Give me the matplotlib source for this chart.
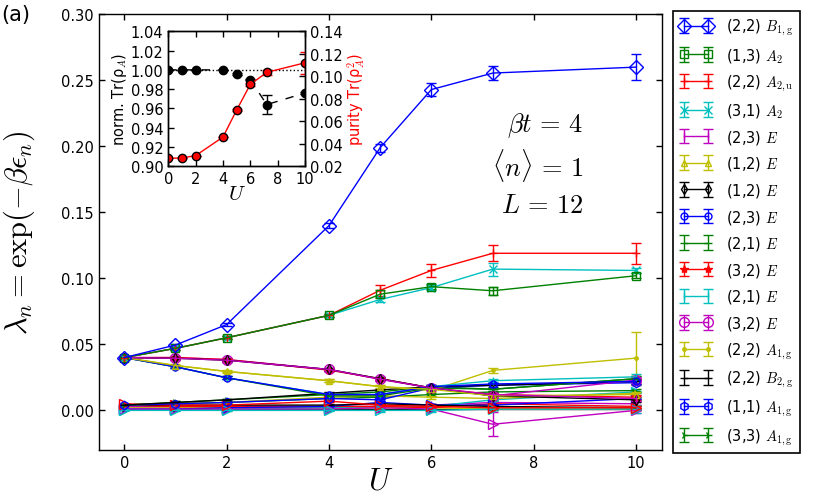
import matplotlib
matplotlib.use("Agg")
import matplotlib.pyplot as plt
import numpy as np

plt.rcParams['font.family'] = ['DejaVu Sans']
plt.rcParams['mathtext.fontset'] = 'cm'
plt.rcParams['xtick.direction'] = 'in'
plt.rcParams['ytick.direction'] = 'in'
plt.rcParams['xtick.major.size'] = 4
plt.rcParams['ytick.major.size'] = 4

U = [0, 1, 2, 4, 5, 6, 7.2, 10]

labels = [
    "(2,2) $B_{1,\\mathrm{g}}$", "(1,3) $A_2$", "(2,2) $A_{2,\\mathrm{u}}$", "(3,1) $A_2$",
    "(2,3) $E$", "(1,2) $E$", "(1,2) $E$", "(2,3) $E$", "(2,1) $E$", "(3,2) $E$",
    "(2,1) $E$", "(3,2) $E$", "(2,2) $A_{1,\\mathrm{g}}$", "(2,2) $B_{2,\\mathrm{g}}$",
    "(1,1) $A_{1,\\mathrm{g}}$", "(3,3) $A_{1,\\mathrm{g}}$",
]

values = [
    [0.040, 0.0495, 0.065, 0.140, 0.199, 0.243, 0.2555, 0.260],
    [0.040, 0.047, 0.055, 0.072, 0.088, 0.0937, 0.0906, 0.102],
    [0.040, 0.047, 0.055, 0.072, 0.091, 0.106, 0.119, 0.119],
    [0.040, 0.047, 0.055, 0.072, 0.084, 0.093, 0.107, 0.106],
    [0.040, 0.0395, 0.038, 0.031, 0.0237, 0.017, 0.012, 0.009],
    [0.040, 0.034, 0.0295, 0.0225, 0.018, 0.016, 0.011, 0.012],
    [0.040, 0.0395, 0.038, 0.031, 0.024, 0.017, 0.011, 0.008],
    [0.040, 0.033, 0.0247, 0.012, 0.012, 0.018, 0.020, 0.022],
    [0.040, 0.033, 0.0247, 0.011, 0.011, 0.017, 0.016, 0.024],
    [0.040, 0.040, 0.0385, 0.0305, 0.024, 0.017, 0.012, 0.010],
    [0.040, 0.033, 0.0247, 0.012, 0.012, 0.018, 0.0225, 0.0254],
    [0.040, 0.040, 0.0385, 0.031, 0.0235, 0.017, 0.011, 0.023],
    [0.040, 0.034, 0.0295, 0.0224, 0.018, 0.015, 0.0303, 0.0396],
    [0.004, 0.006, 0.008, 0.013, 0.0155, 0.018, 0.019, 0.022],
    [0.004, 0.005, 0.006, 0.009, 0.008, 0.017, 0.019, 0.021],
    [0.004, 0.006, 0.008, 0.012, 0.014, 0.018, 0.016, 0.024],
    # unlabeled states
    [0.005, 0.004, 0.004, 0.007, 0.004, 0.003, 0.002, 0.002],
    [0.000, 0.000, 0.000, 0.000, 0.000, 0.000, 0.001, 0.001],
    [0.001, 0.001, 0.001, 0.001, 0.002, 0.001, -0.0105, 0.000],
    [0.004, 0.005, 0.006, 0.010, 0.011, 0.010, 0.009, 0.013],
    [0.004, 0.004, 0.004, 0.004, 0.005, 0.004, 0.003, 0.002],
    [0.001, 0.001, 0.002, 0.003, 0.006, 0.004, 0.004, 0.009],
    [0.004, 0.005, 0.006, 0.009, 0.010, 0.012, 0.014, 0.015],
    [0.004, 0.003, 0.003, 0.003, 0.003, 0.002, 0.005, 0.003],
    [0.000, 0.001, 0.001, 0.002, 0.003, 0.003, 0.008, 0.014],
    [0.003, 0.003, 0.003, 0.003, 0.003, 0.004, 0.006, 0.005],
    [0.002, 0.002, 0.002, 0.002, 0.002, 0.002, 0.001, 0.001],
    [0.001, 0.001, 0.001, 0.001, 0.001, 0.001, 0.001, 0.001],
]

errors = [
    [0, 0.001, 0.001, 0.002, 0.003, 0.005, 0.005, 0.010],
    [0, 0.001, 0.001, 0.001, 0.003, 0.002, 0.003, 0.002],
    [0, 0.001, 0.001, 0.001, 0.004, 0.005, 0.006, 0.008],
    [0, 0.001, 0.001, 0.001, 0.002, 0.002, 0.005, 0.002],
    [0, 0.001, 0.001, 0.001, 0.001, 0.001, 0.001, 0.002],
    [0, 0.001, 0.001, 0.001, 0.001, 0.001, 0.001, 0.002],
    [0, 0.001, 0.001, 0.001, 0.001, 0.001, 0.001, 0.002],
    [0, 0.001, 0.001, 0.001, 0.001, 0.001, 0.001, 0.002],
    [0, 0.001, 0.001, 0.001, 0.001, 0.001, 0.001, 0.002],
    [0, 0.001, 0.001, 0.001, 0.001, 0.001, 0.001, 0.002],
    [0, 0.001, 0.001, 0.001, 0.001, 0.001, 0.001, 0.002],
    [0, 0.001, 0.001, 0.001, 0.001, 0.001, 0.001, 0.002],
    [0, 0.0005, 0.0005, 0.001, 0.001, 0.001, 0.002, 0.020],
    [0, 0.001, 0.001, 0.001, 0.001, 0.001, 0.002, 0.002],
    [0, 0.001, 0.001, 0.001, 0.001, 0.001, 0.002, 0.002],
    [0, 0.001, 0.001, 0.001, 0.001, 0.001, 0.002, 0.002],
    [0, 0.0005, 0.0005, 0.0005, 0.001, 0.001, 0.001, 0.001],
    [0, 0.0005, 0.0005, 0.0005, 0.001, 0.001, 0.001, 0.003],
    [0, 0.0005, 0.0005, 0.0005, 0.001, 0.001, 0.009, 0.002],
    [0, 0.0005, 0.0005, 0.0005, 0.001, 0.001, 0.001, 0.001],
    [0, 0.0005, 0.0005, 0.0005, 0.001, 0.001, 0.001, 0.001],
    [0, 0.0005, 0.0005, 0.0005, 0.001, 0.001, 0.001, 0.001],
    [0, 0.0005, 0.0005, 0.0005, 0.001, 0.001, 0.001, 0.001],
    [0, 0.0005, 0.0005, 0.0005, 0.001, 0.001, 0.001, 0.001],
    [0, 0.0005, 0.0005, 0.0005, 0.001, 0.001, 0.001, 0.001],
    [0, 0.0005, 0.0005, 0.0005, 0.001, 0.001, 0.001, 0.001],
    [0, 0.0005, 0.0005, 0.0005, 0.001, 0.001, 0.001, 0.001],
    [0, 0.0005, 0.0005, 0.0005, 0.001, 0.001, 0.001, 0.001],
]

# inset data
U_in = [0, 1, 2, 4, 5, 6, 7.2, 10]
norm_tr = [1.000, 1.000, 1.000, 1.000, 0.996, 0.990, 0.964, 0.976]
norm_err = [0, 0, 0, 0, 0.001, 0.001, 0.0097, 0.001]
purity = [0.0271, 0.0274, 0.0295, 0.046, 0.070, 0.0928, 0.1035, 0.112]
purity_err = [0, 0, 0, 0, 0.001, 0.001, 0.002, 0.010]

colors = ['b', 'g', 'r', 'c', 'm', 'y', 'k']
markers = ['D', 's', '+', 'x', '|', '^', 'd', 'o', '_', '*', '|', 'o', '.', '_', 'h', '4',
           '>', '>', '>', '4', '_', '>', '_', '+', '>', '|', '_', '4']
msizes = [7, 6, 6, 6, 6, 5, 5, 5, 6, 6, 6, 7, 5, 6, 6, 6,
          7, 7, 7, 6, 6, 7, 6, 6, 7, 6, 6, 6]
open_m = {'D', 's', '^', 'd', 'o', 'h', '>'}

fig = plt.figure(figsize=(8.30, 5.02), dpi=100)
fig.patch.set_facecolor('white')
ax = fig.add_axes([98.7 / 830, 1 - 451 / 502, (661.7 - 98.7) / 830, (451 - 15.3) / 502])

handles = []
for i, (vals, errs) in enumerate(zip(values, errors)):
    c = colors[i % 7]
    m = markers[i]
    mfc = 'none' if m in open_m else c
    h = ax.errorbar(U, vals, yerr=errs, color=c, marker=m, ms=msizes[i], mfc=mfc, mec=c,
                    mew=1.0, lw=1.0, elinewidth=1.0, capsize=3.5, capthick=1.0,
                    label=labels[i] if i < len(labels) else None, zorder=2 + (30 - i) * 0.01)
    if i < len(labels):
        handles.append(h)

ax.set_xlim(-0.5, 10.5)
ax.set_ylim(-0.03, 0.30)
ax.set_xticks([0, 2, 4, 6, 8, 10])
ax.set_yticks([0.00, 0.05, 0.10, 0.15, 0.20, 0.25, 0.30])
ax.set_yticklabels(['0.00', '0.05', '0.10', '0.15', '0.20', '0.25', '0.30'])
ax.tick_params(axis='both', which='both', top=True, right=True, labelsize=10.5, width=1)
for s in ax.spines.values():
    s.set_linewidth(1.0)
ax.set_xlabel('$U$', fontsize=22, labelpad=-3)
ax.set_ylabel('$\\lambda_n = \\exp(-\\beta\\epsilon_n)$', fontsize=22, labelpad=17)

ax.text(8.97, 0.2165, '$\\beta t\\,=\\,4$', fontsize=19, ha='right', va='center')
ax.text(8.97, 0.1862, '$\\langle n\\rangle\\,=\\,1$', fontsize=19, ha='right', va='center')
ax.text(8.97, 0.1554, '$L\\,=\\,12$', fontsize=19, ha='right', va='center')

fig.text(1 / 830, 1 - 15 / 502, '(a)', fontsize=15, ha='left', va='center')

leg = fig.legend(handles=handles, loc='upper left', bbox_to_anchor=(672.7 / 830, 1 - 11.7 / 502),
                 bbox_transform=fig.transFigure, fontsize=10.5, numpoints=2, fancybox=False,
                 framealpha=1, edgecolor='k', borderaxespad=0, labelspacing=0.59,
                 handlelength=2.3, handletextpad=0.9, borderpad=0.45)
leg.get_frame().set_linewidth(1.2)

# inset
axi = fig.add_axes([168.3 / 830, 1 - 167.3 / 502, (305 - 168.3) / 830, (167.3 - 32.3) / 502])
axi.plot([0, 10], [1.0, 1.0], 'k:', lw=1.0)
axi.errorbar(U_in, norm_tr, yerr=norm_err, fmt='--', color='k', marker='o', ms=6,
             mfc='k', mec='k', lw=1.0, capsize=3.5, elinewidth=1.0, dashes=(6, 6))
axi.set_xlim(0, 10)
axi.set_ylim(0.90, 1.04)
axi.set_xticks([0, 2, 4, 6, 8, 10])
axi.set_yticks([0.90, 0.92, 0.94, 0.96, 0.98, 1.00, 1.02, 1.04])
axi.set_yticklabels(['0.90', '0.92', '0.94', '0.96', '0.98', '1.00', '1.02', '1.04'])
axi.tick_params(labelsize=10.5, top=True, width=1)
axi.set_ylabel('norm. Tr(ρ$_A$)', fontsize=10.5, labelpad=1)
axi.set_xlabel('$U$', fontsize=15, labelpad=-2)

axr = axi.twinx()
axr.errorbar(U_in, purity, yerr=purity_err, color='r', marker='o', ms=6, mfc='r', mec='k',
             lw=1.0, capsize=3.5, elinewidth=1.0)
axr.set_ylim(0.02, 0.14)
axr.set_yticks([0.02, 0.04, 0.06, 0.08, 0.10, 0.12, 0.14])
axr.set_yticklabels(['0.02', '0.04', '0.06', '0.08', '0.10', '0.12', '0.14'])
axr.tick_params(labelsize=10.5, direction='in', width=1)
axr.set_ylabel('purity Tr(ρ$_A^2$)', fontsize=10.5, color='r', labelpad=2)
for s in list(axi.spines.values()) + list(axr.spines.values()):
    s.set_linewidth(1.0)

fig.savefig('out.png', dpi=100, facecolor='white')
